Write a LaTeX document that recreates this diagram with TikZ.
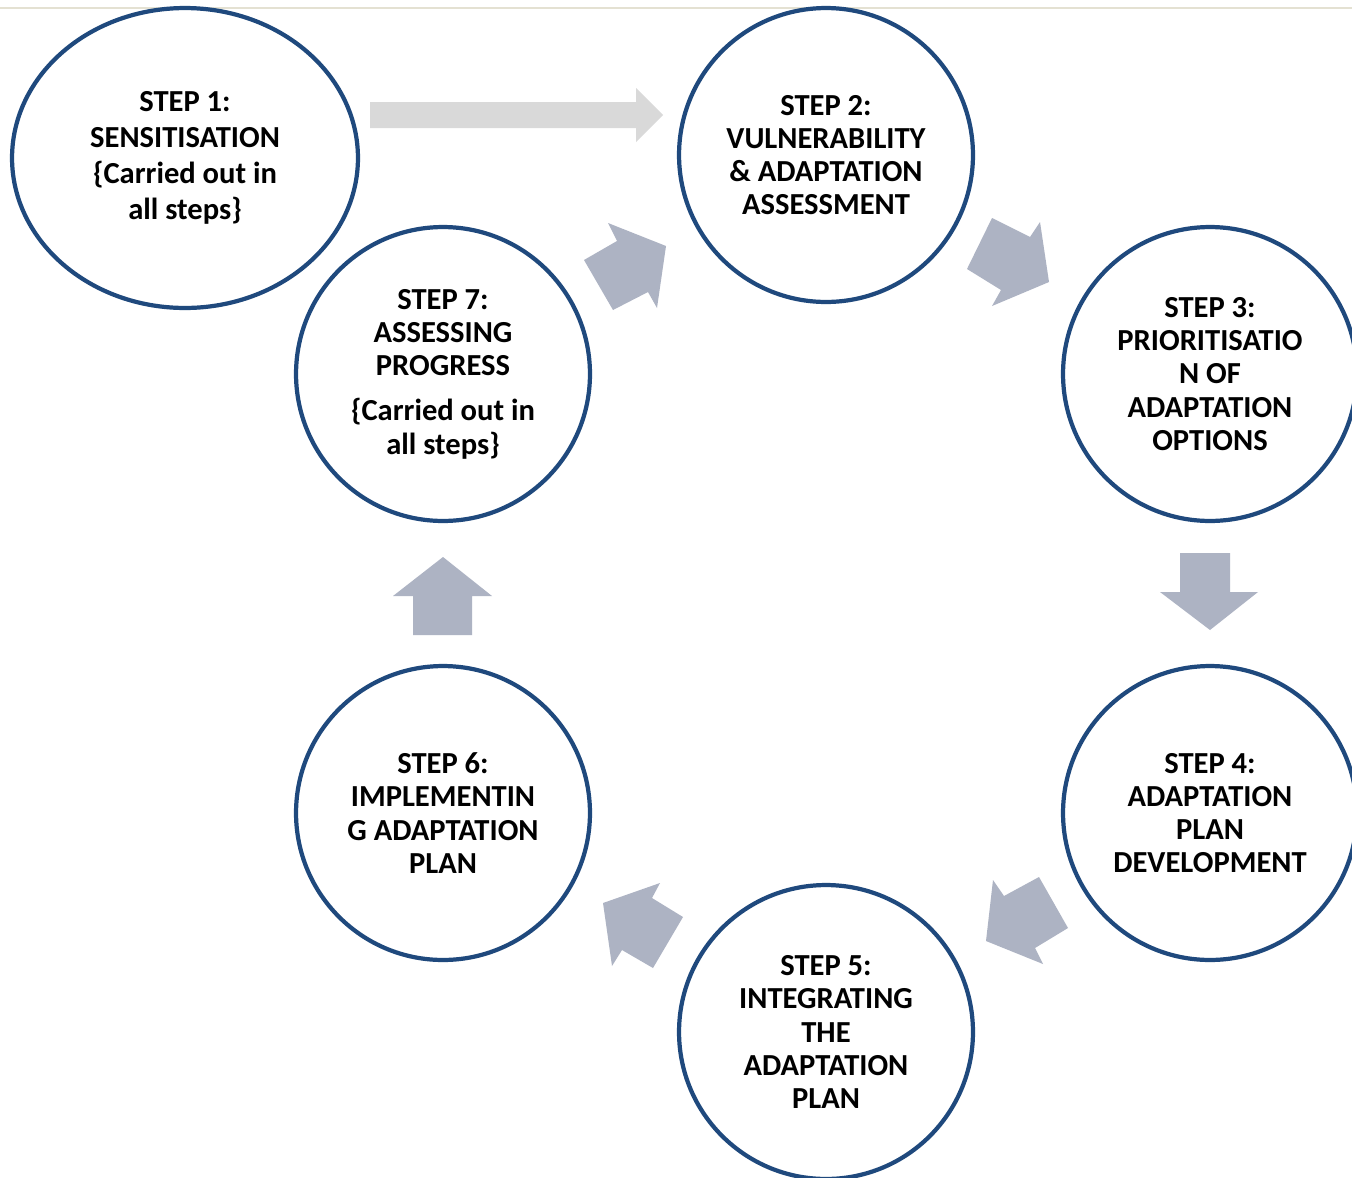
\documentclass[tikz,border=0pt]{standalone}
\usepackage{fontspec}
\setmainfont{Carlito}
\usetikzlibrary{shapes.geometric}
\definecolor{ringblue}{HTML}{1F497D}
\definecolor{arrowgrey}{HTML}{ADB3C3}
\definecolor{lightarrow}{HTML}{D9D9D9}
\definecolor{topline}{HTML}{E4E1D2}
\tikzset{
  stepcircle/.style={circle, draw=ringblue, line width=2.4pt, fill=white,
    minimum size=5.88cm, inner sep=0pt, align=center,
    font=\fontsize{17.4}{18.9}\selectfont\bfseries},
  blockarrow/.style={fill=arrowgrey, draw=none},
}
\begin{document}
\begin{tikzpicture}[x=0.02cm, y=-0.02cm]
\useasboundingbox (0,0) rectangle (1352,1177);
\clip (0,0) rectangle (1352,1177);
\fill[white] (0,0) rectangle (1352,1177);
\draw[topline, line width=1.2pt] (0,8) -- (1352,8);

% step circles
\node[stepcircle, ellipse, minimum width=6.92cm, minimum height=6.0cm,
      font=\fontsize{17.4}{20.5}\selectfont\bfseries] (s1) at (185,158)
  {STEP 1:\\SENSITISATION\\\{Carried out in\\all steps\}};
\node[stepcircle] (s2) at (826,155)
  {STEP 2:\\VULNERABILITY\\\& ADAPTATION\\ASSESSMENT};
\node[stepcircle] (s3) at (1210,374)
  {STEP 3:\\PRIORITISATIO\\N OF\\ADAPTATION\\OPTIONS};
\node[stepcircle] (s4) at (1210,813)
  {STEP 4:\\ADAPTATION\\PLAN\\DEVELOPMENT};
\node[stepcircle] (s5) at (826,1032)
  {STEP 5:\\INTEGRATING\\THE\\ADAPTATION\\PLAN};
\node[stepcircle] (s6) at (443,813)
  {STEP 6:\\IMPLEMENTIN\\G ADAPTATION\\PLAN};
\node[stepcircle] (s7) at (443,374)
  {STEP 7:\\ASSESSING\\PROGRESS\\[7pt]\{Carried out in\\all steps\}};

% arrow 1 -> 2 (light)
\fill[lightarrow] (370,102) -- (636,102) -- (636,88) -- (663,115)
  -- (636,142) -- (636,128) -- (370,128) -- cycle;
% arrow 2 -> 3
\fill[blockarrow] (992,218) -- (1030,237) -- (1040,222) -- (1049,282)
  -- (992,306) -- (1001,290) -- (967,269) -- cycle;
% arrow 3 -> 4
\fill[blockarrow] (1180,553) -- (1230,553) -- (1230,592) -- (1258,592)
  -- (1210,630) -- (1160,592) -- (1180,592) -- cycle;
% arrow 4 -> 5
\fill[blockarrow] (993,880) -- (1004,896) -- (1039,877) -- (1068,928)
  -- (1035,948) -- (1043,964) -- (986,941) -- cycle;
% arrow 5 -> 6
\fill[blockarrow] (660,883) -- (652,898) -- (683,917) -- (653,968)
  -- (622,950) -- (612,966) -- (603,903) -- cycle;
% arrow 6 -> 7
\fill[blockarrow] (413,635) -- (413,596) -- (393,596) -- (443,557)
  -- (492,596) -- (472,596) -- (472,635) -- cycle;
% arrow 7 -> 2
\fill[blockarrow] (608,223) -- (617,241) -- (584,260) -- (613,310)
  -- (648,292) -- (657,308) -- (666,246) -- cycle;
\end{tikzpicture}
\end{document}
